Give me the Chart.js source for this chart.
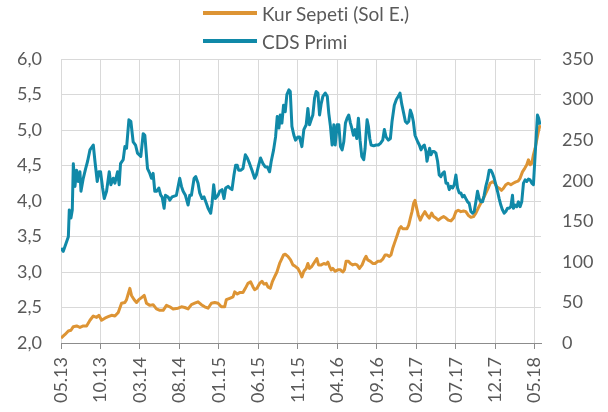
<!DOCTYPE html>
<html lang="tr">
<head>
    <meta charset="UTF-8">
    <title>Kur Sepeti ve CDS Primi</title>
    <script src="https://cdn.jsdelivr.net/npm/chart.js"></script>
    <style>
        body {
            margin: 0;
            background: #fff;
        }
        #wrap {
            position: relative;
            width: 608px;
            height: 412px;
        }
        #legend {
            position: absolute;
            left: 203px;
            top: -1px;
            font-family: Lato, sans-serif;
            font-size: 19px;
            font-variant-ligatures: none;
            color: #595959;
        }
        .row {
            display: flex;
            align-items: center;
            height: 28px;
        }
        .swatch {
            width: 54px;
            height: 4px;
            margin-right: 5px;
        }
    </style>
</head>
<body>
    <div id="wrap">
        <canvas id="chart" width="608" height="412"></canvas>
        <div id="legend">
            <div class="row"><span class="swatch" style="background:#DD9434"></span>Kur Sepeti (Sol E.)</div>
            <div class="row"><span class="swatch" style="background:#1089A8"></span>CDS Primi</div>
        </div>
    </div>

    <script>
        // x ekseni: 05.13'ten itibaren ay
        const tickLabels = ['05.13', '10.13', '03.14', '08.14', '01.15', '06.15', '11.15', '04.16', '09.16', '02.17', '07.17', '12.17', '05.18'];

        const kurMonths = [0.00, 0.51, 0.93, 1.26, 1.56, 1.98, 2.40, 2.82, 3.24, 3.67, 4.09, 4.51, 4.80, 5.14, 5.56, 5.98, 6.41, 6.83, 7.25, 7.67,
            8.09, 8.30, 8.51, 8.72, 8.93, 9.27, 9.57, 9.86, 10.20, 10.54, 10.83, 11.25, 11.67, 12.09, 12.52, 12.94, 13.36, 13.78, 14.20,
            14.83, 15.26, 15.68, 16.10, 16.52, 16.94, 17.36, 17.78, 18.20, 18.63, 19.05, 19.47, 19.89, 20.31, 20.73, 20.94, 21.37, 21.79, 22.00, 22.33,
            22.63, 23.05, 23.35, 23.68, 24.02, 24.32, 24.53, 24.82, 25.16, 25.45, 25.71, 26.00, 26.21, 26.51, 26.76, 27.05, 27.35, 27.69, 27.90, 28.19,
            28.40, 28.74, 29.08, 29.37, 29.67, 30.01,
            30.34, 30.51, 30.76, 31.06, 31.27, 31.48, 31.78, 32.12, 32.41, 32.62, 32.96, 33.29, 33.59, 33.80, 34.01, 34.22, 34.43, 34.73, 35.07, 35.40,
            35.69, 35.90, 36.11, 36.41, 36.66, 36.96, 37.25, 37.50, 37.80, 38.14, 38.43, 38.64, 38.85, 39.19, 39.49, 39.78, 40.12, 40.46, 40.75, 41.05,
            41.30, 41.59, 41.80, 42.01, 42.22, 42.44, 42.65, 42.86, 43.07, 43.28, 43.57, 43.83, 44.04, 44.25, 44.46, 44.67, 44.84, 45.05, 45.26,
            45.51, 45.81, 46.10, 46.36, 46.65, 46.95, 47.20, 47.49, 47.79, 48.12, 48.46, 48.76, 49.05, 49.39, 49.73, 50.02, 50.32, 50.65, 50.99, 51.28,
            51.58, 51.92, 52.25, 52.55, 52.85, 53.18, 53.52, 53.81, 54.11, 54.36, 54.66, 54.96, 55.20, 55.50, 55.80, 56.05, 56.35, 56.64, 56.98, 57.28,
            57.61, 57.90, 58.15, 58.45, 58.74, 59.00, 59.21, 59.42, 59.63, 59.84, 60.05, 60.26, 60.47, 60.68];
        const kurValues = [2.07, 2.12, 2.17, 2.18, 2.23, 2.24, 2.22, 2.24, 2.24, 2.32, 2.38, 2.36, 2.39, 2.32, 2.35, 2.37, 2.39, 2.38, 2.43, 2.56,
            2.57, 2.61, 2.69, 2.77, 2.67, 2.61, 2.57, 2.61, 2.64, 2.67, 2.56, 2.53, 2.54, 2.48, 2.46, 2.46, 2.53, 2.51, 2.48,
            2.49, 2.51, 2.50, 2.48, 2.54, 2.56, 2.58, 2.54, 2.51, 2.49, 2.56, 2.57, 2.56, 2.51, 2.51, 2.61, 2.63, 2.65, 2.72, 2.69,
            2.71, 2.71, 2.77, 2.84, 2.86, 2.79, 2.75, 2.77, 2.84, 2.87, 2.83, 2.84, 2.79, 2.77, 2.86, 2.93, 3.00, 3.12, 3.17, 3.24,
            3.25, 3.22, 3.17, 3.10, 3.08, 3.05,
            2.98, 2.93, 3.01, 3.05, 3.12, 3.05, 3.08, 3.14, 3.19, 3.10, 3.10, 3.12, 3.11, 3.14, 3.08, 3.03, 3.05, 3.01, 3.03, 3.03,
            3.00, 3.03, 3.15, 3.15, 3.12, 3.10, 3.11, 3.10, 3.05, 3.10, 3.18, 3.22, 3.17, 3.15, 3.12, 3.12, 3.15, 3.15, 3.18, 3.24,
            3.24, 3.22, 3.24, 3.33, 3.40, 3.47, 3.54, 3.61, 3.64, 3.61, 3.61, 3.61, 3.66, 3.76, 3.85, 3.97, 4.01, 3.90, 3.80,
            3.73, 3.80, 3.85, 3.80, 3.76, 3.83, 3.78, 3.76, 3.73, 3.76, 3.78, 3.76, 3.73, 3.72, 3.76, 3.85, 3.87, 3.85, 3.86, 3.85,
            3.80, 3.77, 3.78, 3.83, 3.90, 3.97, 4.04, 4.11, 4.18, 4.25, 4.27, 4.25, 4.20, 4.18, 4.15, 4.18, 4.23, 4.25, 4.23, 4.25,
            4.27, 4.28, 4.32, 4.41, 4.46, 4.51, 4.58, 4.51, 4.53, 4.65, 4.74, 4.86, 4.98, 5.07];

        const cdsMonths = [0.00, 0.29, 0.72, 0.93, 1.05, 1.26, 1.43, 1.56, 1.77, 1.98, 2.19, 2.40, 2.53, 2.82, 3.12, 3.37, 3.67, 4.09, 4.30, 4.59,
            4.80, 5.01, 5.27, 5.48, 5.77, 6.11, 6.32, 6.62, 6.83, 7.16, 7.37, 7.54, 7.88, 8.09, 8.30, 8.60, 8.85, 9.14, 9.44, 9.69,
            10.11, 10.41, 10.62, 10.96, 11.25, 11.46, 11.67, 11.88, 12.09, 12.39, 12.64, 12.81, 13.06, 13.23, 13.57, 13.78, 14.07,
            14.62, 15.04, 15.26, 15.47, 15.76, 16.10, 16.31, 16.52, 16.86, 17.07, 17.36, 17.57, 17.87, 18.12, 18.42, 18.63, 18.96, 19.13, 19.34, 19.55,
            19.89, 20.10, 20.40, 20.65, 20.86, 21.16, 21.37, 21.66, 21.91, 22.12, 22.33, 22.50, 22.76, 23.05, 23.35, 23.60, 23.89, 24.19, 24.53, 24.74,
            25.03, 25.28, 25.58, 25.87, 26.13, 26.42, 26.63, 26.93, 27.18, 27.39, 27.60, 27.77, 27.98, 28.19, 28.40, 28.61, 28.87, 29.04, 29.25, 29.50,
            29.71, 30.01, 30.21,
            30.51, 30.76, 31.06, 31.27, 31.48, 31.69, 31.90, 32.12, 32.33, 32.54, 32.75, 32.96, 33.17, 33.47, 33.73, 33.92, 34.13, 34.34, 34.56, 34.73,
            34.98, 35.19, 35.40, 35.61, 35.82, 36.03, 36.24, 36.45, 36.66, 36.83, 37.04, 37.25, 37.46, 37.67, 37.88, 38.10, 38.35, 38.52, 38.64, 38.77,
            38.94, 39.11, 39.28, 39.61, 39.91, 40.20, 40.46, 40.75, 40.96, 41.17, 41.47, 41.72, 41.93, 42.22, 42.48, 42.73, 42.94, 43.15, 43.41, 43.62,
            43.83, 44.04, 44.25, 44.46, 44.63, 44.84,
            45.18, 45.39, 45.60, 45.81, 46.02, 46.23, 46.36, 46.52, 46.69, 46.86, 47.07, 47.28, 47.49, 47.70, 47.91, 48.12, 48.34, 48.55, 48.76, 48.97,
            49.18, 49.39, 49.60, 49.81, 50.02, 50.23, 50.44, 50.65, 50.86, 51.07, 51.28, 51.50, 51.71, 51.92, 52.13, 52.34, 52.55, 52.76, 52.97, 53.18,
            53.39, 53.60, 53.81, 54.02, 54.24, 54.45, 54.66, 54.87, 55.08, 55.29, 55.50, 55.71, 55.92, 56.13, 56.34, 56.55, 56.77, 56.98, 57.19, 57.31,
            57.52, 57.73, 57.94, 58.15, 58.36, 58.58, 58.79, 59.00, 59.21, 59.42, 59.63, 59.84, 60.01, 60.18, 60.35, 60.51, 60.68];
        const cdsValues = [117, 113, 125, 131, 164, 154, 164, 221, 193, 213, 199, 211, 187, 203, 215, 224, 238, 244, 224, 199,
            211, 211, 191, 178, 187, 211, 195, 203, 197, 211, 195, 221, 226, 242, 240, 275, 273, 248, 244, 234,
            230, 258, 256, 215, 209, 203, 209, 187, 187, 191, 182, 180, 166, 182, 180, 176, 180,
            182, 203, 193, 187, 182, 170, 182, 182, 203, 205, 197, 185, 178, 180, 172, 166, 160, 172, 195, 178,
            182, 187, 189, 178, 191, 193, 191, 189, 207, 219, 219, 213, 213, 215, 232, 228, 221, 213, 203, 207,
            219, 228, 221, 217, 217, 211, 224, 238, 254, 279, 265, 281, 271, 293, 285, 306, 312, 310, 267, 256,
            250, 254, 254,
            242, 263, 269, 289, 269, 275, 281, 302, 310, 308, 281, 295, 304, 308, 304, 283, 267, 244, 269, 244,
            269, 269, 242, 238, 248, 271, 277, 281, 271, 265, 256, 263, 252, 277, 250, 230, 226, 240, 258, 275,
            267, 252, 244, 243, 244, 244, 246, 250, 263, 254, 250, 252, 273, 293, 300, 304, 308, 295, 283, 273,
            271, 273, 287, 281, 273, 256,
            248, 244, 238, 242, 244, 236, 224, 232, 240, 232, 236, 236, 234, 224, 207, 205, 209, 211, 197, 197,
            189, 193, 191, 195, 207, 191, 185, 185, 180, 182, 178, 174, 172, 162, 160, 162, 174, 187, 178, 174,
            174, 182, 193, 201, 213, 213, 209, 203, 195, 187, 178, 170, 164, 160, 162, 166, 166, 168, 182, 166,
            170, 168, 174, 168, 174, 197, 201, 199, 202, 201, 197, 195, 224, 252, 281, 277, 269];

        const toPoints = (xs, ys) => xs.map((x, i) => ({ x: x, y: ys[i] }));

        Chart.defaults.font.family = 'Lato, sans-serif';
        Chart.defaults.font.size = 18;
        Chart.defaults.color = '#595959';

        new Chart(document.getElementById('chart'), {
            type: 'line',
            data: {
                datasets: [
                    {
                        label: 'Kur Sepeti (Sol E.)',
                        data: toPoints(kurMonths, kurValues),
                        yAxisID: 'y',
                        borderColor: '#DD9434',
                        borderWidth: 3,
                        borderJoinStyle: 'round',
                        pointRadius: 0,
                        tension: 0,
                        order: 1
                    },
                    {
                        label: 'CDS Primi',
                        data: toPoints(cdsMonths, cdsValues),
                        yAxisID: 'y1',
                        borderColor: '#1089A8',
                        borderWidth: 3,
                        borderJoinStyle: 'round',
                        pointRadius: 0,
                        tension: 0,
                        order: 0
                    }
                ]
            },
            options: {
                responsive: false,
                animation: false,
                layout: { padding: { top: 59 } },
                plugins: {
                    legend: { display: false },
                    tooltip: { enabled: false }
                },
                scales: {
                    x: {
                        type: 'linear',
                        min: 0,
                        max: 60.8,
                        afterFit: s => { s.height = 69; },
                        border: { color: '#8c8c8c' },
                        grid: { color: '#d9d9d9', tickColor: '#8c8c8c', tickLength: 6 },
                        ticks: {
                            stepSize: 5,
                            includeBounds: false,
                            autoSkip: false,
                            minRotation: 90,
                            maxRotation: 90,
                            padding: 8,
                            callback: v => tickLabels[Math.round(v / 5)]
                        }
                    },
                    y: {
                        position: 'left',
                        min: 2,
                        max: 6,
                        afterFit: s => { s.width = 61; },
                        border: { display: false },
                        grid: { color: '#d9d9d9', drawTicks: false },
                        ticks: {
                            stepSize: 0.5,
                            padding: 19,
                            callback: v => v.toFixed(1).replace('.', ',')
                        }
                    },
                    y1: {
                        position: 'right',
                        min: 0,
                        max: 350,
                        afterFit: s => { s.width = 67; },
                        border: { display: false },
                        grid: { display: false, drawTicks: false },
                        ticks: { stepSize: 50, padding: 21 }
                    }
                }
            }
        });
    </script>
</body>
</html>
